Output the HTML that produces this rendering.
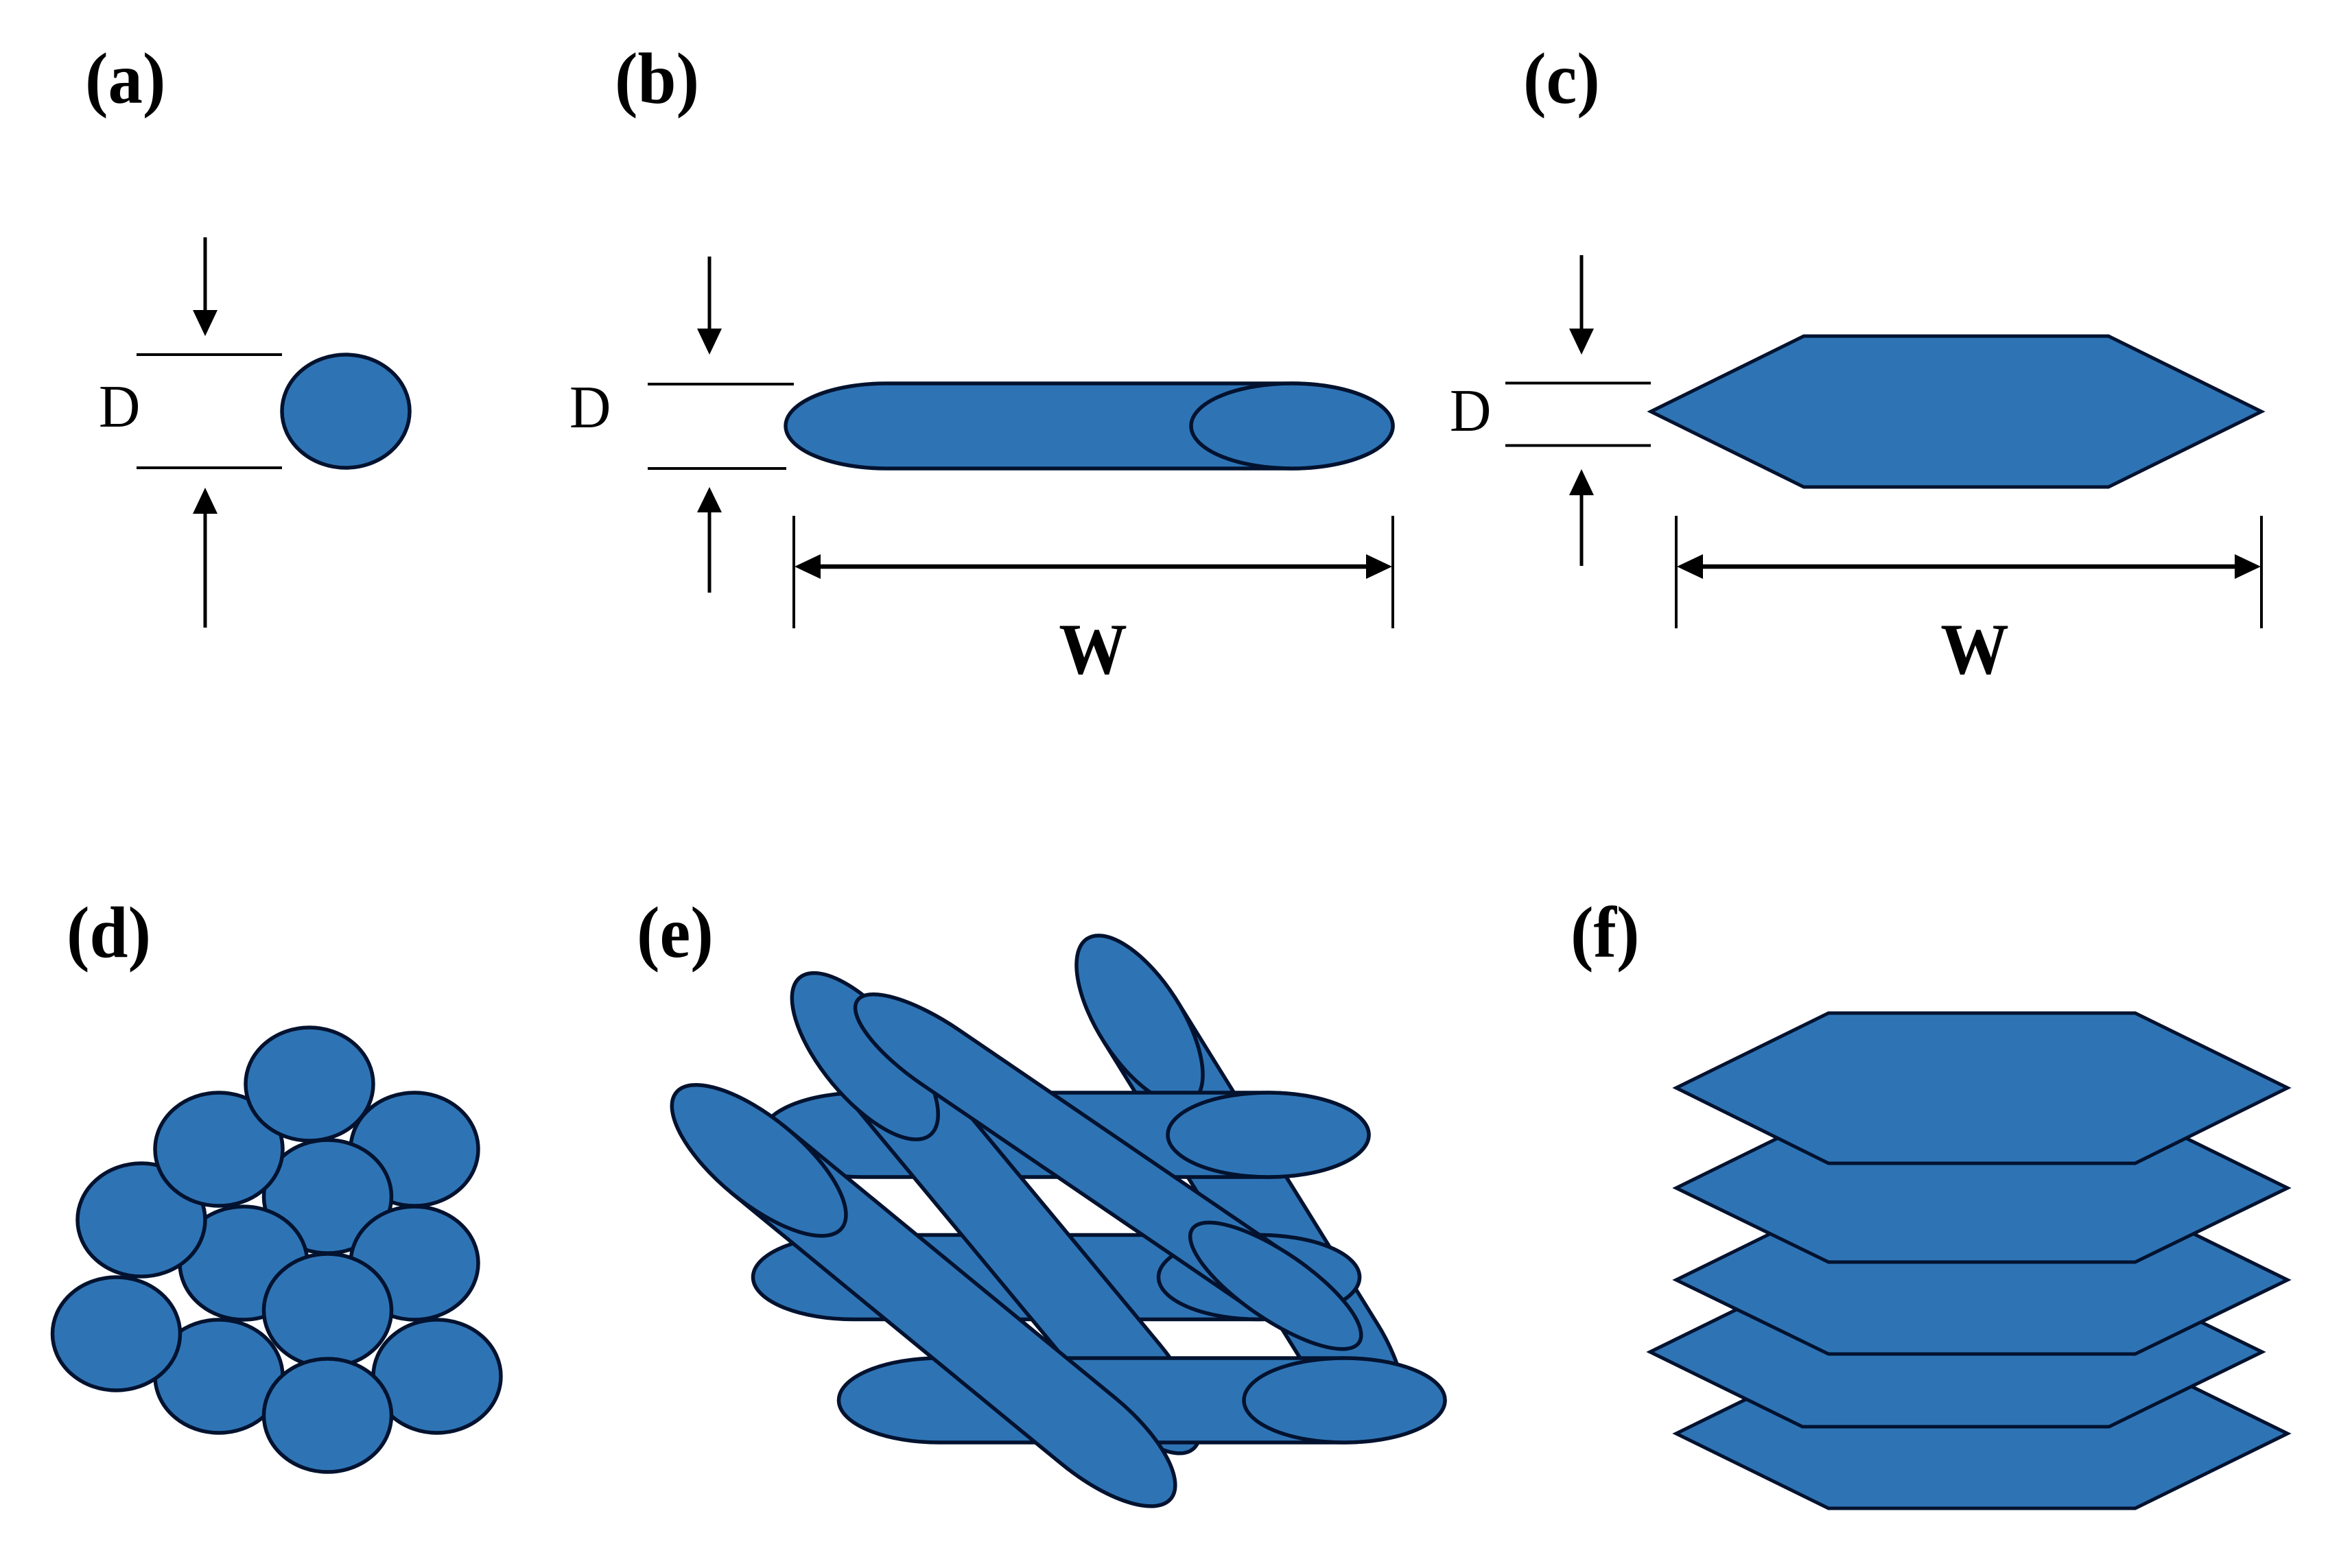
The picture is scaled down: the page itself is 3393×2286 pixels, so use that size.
<!DOCTYPE html>
<html>
<head>
<meta charset="utf-8">
<style>
html,body{margin:0;padding:0;background:#fff;width:3393px;height:2286px;overflow:hidden}
svg{display:block}
.l{font-family:"Liberation Serif",serif;font-weight:bold;font-size:106px;fill:#000}
.d{font-family:"Liberation Serif",serif;font-size:88px;fill:#000}
.w{font-family:"Liberation Serif",serif;font-weight:bold;font-size:106px;fill:#000;text-anchor:middle}
.s{fill:#2e74b5;stroke:#02122f;stroke-width:5.5}
.s2{fill:#2e74b5;stroke:#02122f;stroke-width:5;stroke-linejoin:miter}
.k{stroke:#000;stroke-width:4;fill:none}
.a{stroke:#000;stroke-width:5;fill:none}
.a2{stroke:#000;stroke-width:6.5;fill:none}
</style>
</head>
<body>
<svg width="3393" height="2286" viewBox="0 0 3393 2286" xmlns="http://www.w3.org/2000/svg">
<rect width="3393" height="2286" fill="#fff"/>

<!-- Panel labels -->
<text class="l" transform="translate(124,150) scale(0.95,1)">(a)</text>
<text class="l" transform="translate(896,150) scale(0.95,1)">(b)</text>
<text class="l" transform="translate(2220,150) scale(0.95,1)">(c)</text>
<text class="l" transform="translate(97,1395) scale(0.95,1)">(d)</text>
<text class="l" transform="translate(928,1395) scale(0.95,1)">(e)</text>
<text class="l" transform="translate(2289,1395) scale(0.95,1)">(f)</text>

<!-- Panel a -->
<line class="k" x1="199" y1="517" x2="411" y2="517"/>
<line class="k" x1="199" y1="682" x2="411" y2="682"/>
<line class="a" x1="299" y1="346" x2="299" y2="460"/>
<polygon points="281,452 317,452 299,490"/>
<line class="a" x1="299" y1="915" x2="299" y2="740"/>
<polygon points="281,749 317,749 299,711"/>
<text class="d" transform="translate(144,622) scale(0.95,1)">D</text>
<ellipse class="s" cx="504" cy="599.5" rx="93" ry="82.5"/>

<!-- Panel b -->
<line class="k" x1="944" y1="560" x2="1157" y2="560"/>
<line class="k" x1="944" y1="683" x2="1146" y2="683"/>
<line class="a" x1="1034" y1="374" x2="1034" y2="490"/>
<polygon points="1016,479 1052,479 1034,517"/>
<line class="a" x1="1034" y1="864" x2="1034" y2="735"/>
<polygon points="1016,747 1052,747 1034,710"/>
<text class="d" transform="translate(830,623) scale(0.95,1)">D</text>
<path class="s" d="M1292 559 H1883 A147 62 0 0 1 1883 683 H1292 A147 62 0 0 1 1292 559 Z"/>
<ellipse class="s" cx="1883" cy="621" rx="147" ry="62"/>
<line class="k" x1="1157" y1="752" x2="1157" y2="916"/>
<line class="k" x1="2030" y1="752" x2="2030" y2="916"/>
<line class="a2" x1="1190" y1="826" x2="1995" y2="826"/>
<polygon points="1158,826 1196,808 1196,844"/>
<polygon points="2029,826 1991,808 1991,844"/>
<text class="w" transform="translate(1593,982) scale(0.94,1)">W</text>

<!-- Panel c -->
<line class="k" x1="2194" y1="558.5" x2="2406" y2="558.5"/>
<line class="k" x1="2194" y1="649.5" x2="2406" y2="649.5"/>
<line class="a" x1="2305" y1="372" x2="2305" y2="490"/>
<polygon points="2287,479 2323,479 2305,517"/>
<line class="a" x1="2305" y1="825" x2="2305" y2="710"/>
<polygon points="2287,722 2323,722 2305,684"/>
<text class="d" transform="translate(2113,628) scale(0.95,1)">D</text>
<polygon class="s2" points="2406,600 2629,490 3073,490 3296,600 3073,710 2629,710"/>
<line class="k" x1="2443" y1="752" x2="2443" y2="916"/>
<line class="k" x1="3296" y1="752" x2="3296" y2="916"/>
<line class="a2" x1="2476" y1="826" x2="3262" y2="826"/>
<polygon points="2444,826 2482,808 2482,844"/>
<polygon points="3295,826 3257,808 3257,844"/>
<text class="w" transform="translate(2878,982) scale(0.94,1)">W</text>

<!-- Panel d -->
<ellipse class="s" cx="604" cy="1675.5" rx="93" ry="82.5"/>
<ellipse class="s" cx="477.5" cy="1744.5" rx="93" ry="82.5"/>
<ellipse class="s" cx="355" cy="1841.5" rx="93" ry="82.5"/>
<ellipse class="s" cx="604" cy="1841.5" rx="93" ry="82.5"/>
<ellipse class="s" cx="206" cy="1778.5" rx="93" ry="82.5"/>
<ellipse class="s" cx="319" cy="1675.5" rx="93" ry="82.5"/>
<ellipse class="s" cx="451" cy="1580.5" rx="93" ry="82.5"/>
<ellipse class="s" cx="477.5" cy="1910.5" rx="93" ry="82.5"/>
<ellipse class="s" cx="319" cy="2006.5" rx="93" ry="82.5"/>
<ellipse class="s" cx="637" cy="2006.5" rx="93" ry="82.5"/>
<ellipse class="s" cx="169.5" cy="1944.5" rx="93" ry="82.5"/>
<ellipse class="s" cx="477.5" cy="2063.5" rx="93" ry="82.5"/>

<!-- Panel e -->
<!-- Rod D (back) -->
<g transform="translate(1661,1487) rotate(58.2)">
<path class="s" d="M0 -61 H560 A141 61 0 0 1 560 61 H0 Z"/>
</g>
<ellipse class="s" cx="0" cy="0" rx="141" ry="61" transform="translate(1661,1487) rotate(57.2)"/>
<!-- Top horizontal -->
<path class="s" d="M1257 1593 H1848.5 A146.5 61.5 0 0 1 1848.5 1716 H1257 A146.5 61.5 0 0 1 1257 1593 Z"/>
<ellipse class="s" cx="1848.5" cy="1654.5" rx="146.5" ry="61.5"/>
<!-- Middle horizontal -->
<path class="s" d="M1244 1800.5 H1835 A146.5 61.5 0 0 1 1835 1923.5 H1244 A146.5 61.5 0 0 1 1244 1800.5 Z"/>
<ellipse class="s" cx="1835" cy="1862" rx="146.5" ry="61.5"/>
<!-- Rod B -->
<g transform="translate(1260,1540.5) rotate(50.3)">
<path class="s" d="M0 -63 H597 A149 60 0 0 1 597 57 H0 Z"/>
<ellipse class="s" cx="0" cy="-1" rx="149" ry="62"/>
</g>
<!-- Bottom horizontal -->
<path class="s" d="M1369 1980 H1959.5 A146.5 61.5 0 0 1 1959.5 2103 H1369 A146.5 61.5 0 0 1 1369 1980 Z"/>
<ellipse class="s" cx="1959.5" cy="2041.5" rx="146.5" ry="61.5"/>
<!-- Rod A -->
<g transform="translate(1105.5,1692.5) rotate(39.4)">
<path class="s" d="M0 -63 H621 A156 62 0 0 1 621 61 H0 Z"/>
<ellipse class="s" cx="0" cy="-1" rx="156" ry="62"/>
</g>
<!-- Rod C -->
<g transform="translate(1371,1541.5) rotate(34.3)">
<path class="s" d="M0 -48 H591 A147 48 0 0 1 591 48 H0 A147 48 0 0 1 0 -48 Z"/>
<ellipse class="s" cx="591" cy="0" rx="147" ry="49"/>
</g>

<!-- Panel f -->
<polygon class="s2" points="2443,2090 2665,1981 3112,1981 3334,2090 3112,2199 2665,2199"/>
<polygon class="s2" points="2405,1971 2627,1862 3074,1862 3297,1971 3074,2080 2627,2080"/>
<polygon class="s2" points="2443,1866 2665,1757 3112,1757 3334,1866 3112,1974 2665,1974"/>
<polygon class="s2" points="2443,1732 2665,1623 3112,1623 3334,1732 3112,1840 2665,1840"/>
<polygon class="s2" points="2443,1586 2665,1477 3112,1477 3334,1586 3112,1696 2665,1696"/>
</svg>
</body>
</html>
